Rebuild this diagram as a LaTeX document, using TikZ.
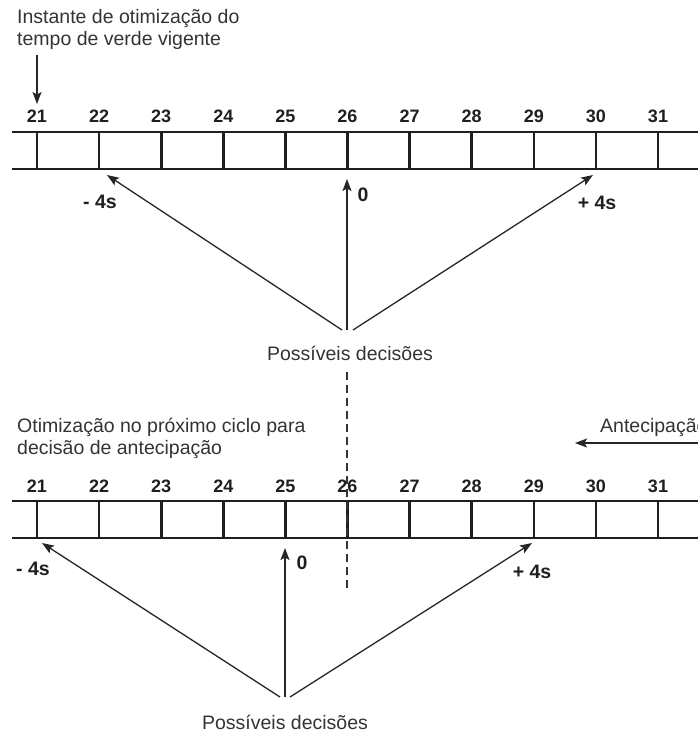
\documentclass[tikz,border=0pt]{standalone}
\usepackage{fontspec}
\setmainfont{Liberation Sans}
\usetikzlibrary{arrows.meta}
\begin{document}
\begin{tikzpicture}[x=1pt,y=-1pt,
  txt/.style={font=\fontsize{19.5}{22}\selectfont, text=black!80, inner sep=0pt},
  num/.style={font=\fontsize{18}{20}\selectfont\bfseries, text=black!88, inner sep=0pt},
  lab/.style={font=\fontsize{19.5}{20}\selectfont\bfseries, text=black!88, inner sep=0pt},
  bar/.style={line width=2.6pt, draw=black!88},
  arr/.style={line width=1.3pt, draw=black!85, -{Stealth[length=12pt,width=9pt,inset=2.5pt]}},
  dashline/.style={line width=1.5pt, draw=black!80, dash pattern=on 8pt off 5pt},
]
\useasboundingbox (0,0) rectangle (698,732);

% ---------- top timeline ----------
\draw[bar] (12,132) -- (705,132);
\draw[bar] (12,169) -- (705,169);
\foreach \i [count=\k from 0] in {21,...,31}{
  \coordinate (tt\i) at ({37+62.1*\k},132);
  \coordinate (tb\i) at ({37+62.1*\k},169);
  \draw[bar] (tt\i) -- (tb\i);
  \node[num] (tl\i) at ({37+62.1*\k},116) {\i};
}

\node[txt, anchor=west] (inst1) at (17,18) {Instante de otimização do};
\node[txt, anchor=west] (inst2) at (17,40) {tempo de verde vigente};
\coordinate (instA) at (37,55);
\coordinate (instB) at (37,104);
\draw[arr] (instA) -- (instB);

\node[txt] (pd1) at (350,353) {Possíveis decisões};
\coordinate (s1) at (347,330);
\coordinate (s1l) at (342,330);
\coordinate (s1r) at (353,330);
\coordinate (e1l) at (107,175);
\coordinate (e1c) at (347,179);
\coordinate (e1r) at (593,175);
\draw[arr] (s1l) -- (e1l);
\draw[arr] (s1) -- (e1c);
\draw[arr] (s1r) -- (e1r);
\node[lab] (m1) at (100,202) {- 4s};
\node[lab] (z1) at (363,195) {0};
\node[lab] (p1) at (597,203) {+ 4s};

% ---------- bottom timeline ----------
\draw[bar] (12,501) -- (705,501);
\draw[bar] (12,538) -- (705,538);
\foreach \i [count=\k from 0] in {21,...,31}{
  \coordinate (bt\i) at ({37+62.1*\k},501);
  \coordinate (bb\i) at ({37+62.1*\k},538);
  \draw[bar] (bt\i) -- (bb\i);
  \node[num] (bl\i) at ({37+62.1*\k},486) {\i};
}

\node[txt, anchor=west] (oti1) at (17,427) {Otimização no próximo ciclo para};
\node[txt, anchor=west] (oti2) at (17,449) {decisão de antecipação};

\node[txt, anchor=west] (ant) at (600,427) {Antecipação};
\coordinate (antA) at (705,443);
\coordinate (antB) at (575,443);
\draw[arr] (antA) -- (antB);

\coordinate (dA) at (347,372);
\coordinate (dB) at (347,590);
\draw[dashline] (dA) -- (dB);

\node[txt] (pd2) at (285,722) {Possíveis decisões};
\coordinate (s2) at (285,697);
\coordinate (s2l) at (280,697);
\coordinate (s2r) at (290,697);
\coordinate (e2l) at (42,543);
\coordinate (e2c) at (285,548);
\coordinate (e2r) at (532,543);
\draw[arr] (s2l) -- (e2l);
\draw[arr] (s2) -- (e2c);
\draw[arr] (s2r) -- (e2r);
\node[lab] (m2) at (33,569) {- 4s};
\node[lab] (z2) at (302,563) {0};
\node[lab] (p2) at (532,572) {+ 4s};
\end{tikzpicture}
\end{document}
